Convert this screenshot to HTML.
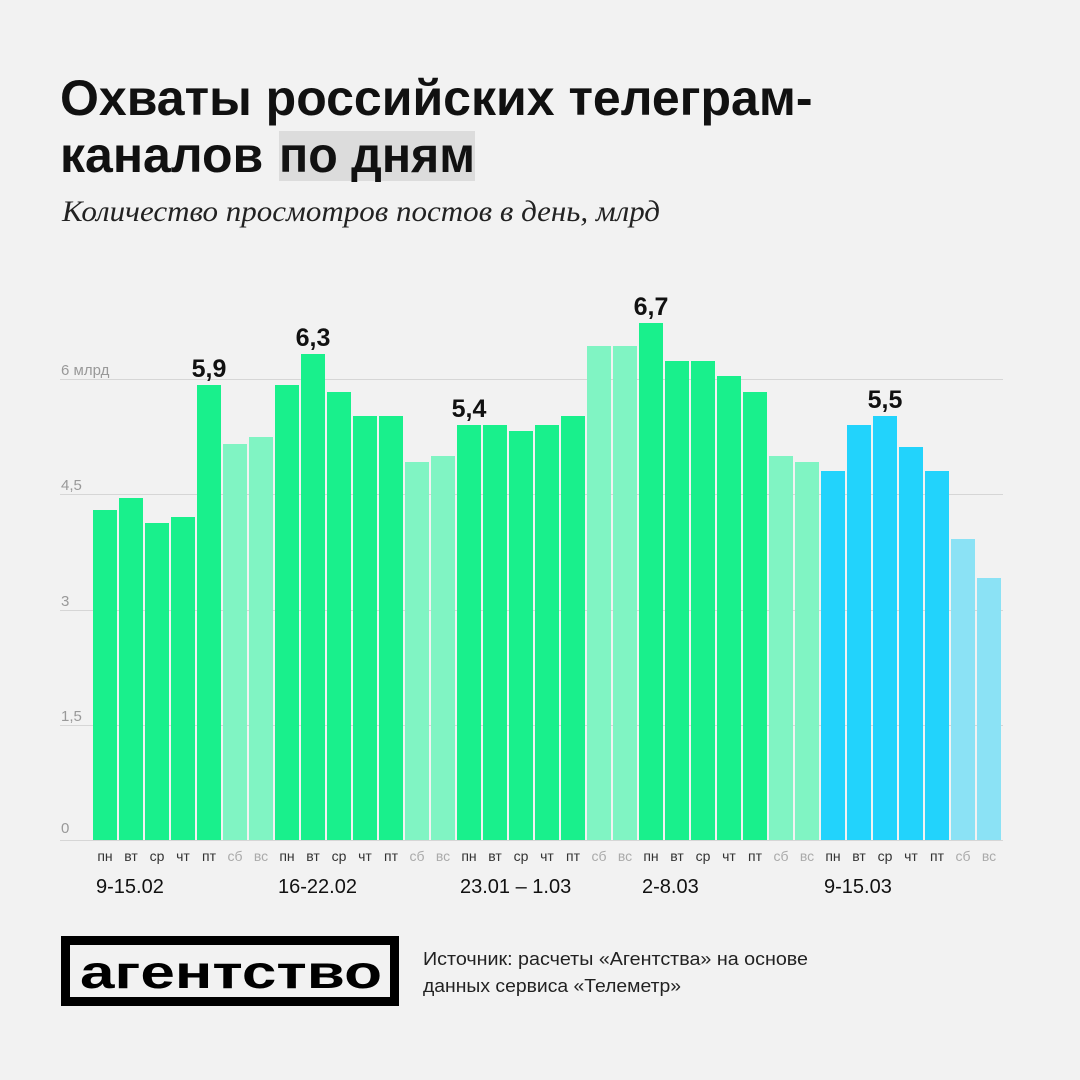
<!DOCTYPE html>
<html><head><meta charset="utf-8"><style>
html,body{margin:0;padding:0;background:#f2f2f2;}
body{width:1080px;height:1080px;position:relative;overflow:hidden;font-family:"Liberation Sans","DejaVu Sans",sans-serif;}
</style></head><body>
<svg width="1080" height="1080" xmlns="http://www.w3.org/2000/svg" style="position:absolute;left:0;top:0">
<rect x="279" y="131" width="196" height="50" fill="#dcdcdc"/>
<text x="60" y="115" font-size="50" font-weight="bold" fill="#111" font-family="Liberation Sans,sans-serif">Охваты российских телеграм-</text>
<text x="60" y="172" font-size="50" font-weight="bold" fill="#111" font-family="Liberation Sans,sans-serif">каналов </text>
<text x="279" y="172" font-size="50" font-weight="bold" fill="#111" font-family="Liberation Sans,sans-serif" textLength="196" lengthAdjust="spacingAndGlyphs">по дням</text>
<text x="62" y="221" font-size="30" font-style="italic" fill="#222" font-family="Liberation Serif,serif" textLength="598" lengthAdjust="spacingAndGlyphs">Количество просмотров постов в день, млрд</text>
<g stroke="#d6d6d6" stroke-width="1">
<line x1="60" x2="1003" y1="379.5" y2="379.5"/><line x1="60" x2="1003" y1="494.5" y2="494.5"/>
<line x1="60" x2="1003" y1="610.5" y2="610.5"/><line x1="60" x2="1003" y1="725.5" y2="725.5"/>
<line x1="60" x2="1003" y1="840.5" y2="840.5"/>
</g>
<g font-size="15" fill="#999">
<text x="61" y="375">6 млрд</text><text x="61" y="490">4,5</text><text x="61" y="606">3</text><text x="61" y="721">1,5</text><text x="61" y="833">0</text>
</g>
<g id="bars"></g>
<g font-size="25" font-weight="bold" fill="#111" text-anchor="middle">
<text x="209" y="377">5,9</text><text x="313" y="346">6,3</text><text x="469" y="417">5,4</text><text x="651" y="315">6,7</text><text x="885" y="408">5,5</text>
</g>
<g id="days" font-size="14" text-anchor="middle"></g>
<g font-size="20" fill="#111">
<text x="96" y="893">9-15.02</text><text x="278" y="893">16-22.02</text><text x="460" y="893">23.01 – 1.03</text><text x="642" y="893">2-8.03</text><text x="824" y="893">9-15.03</text>
</g>
<rect x="65.5" y="940.5" width="329" height="61" fill="none" stroke="#000" stroke-width="9"/>
<text x="80" y="988" font-size="46" font-weight="bold" fill="#000" textLength="302" lengthAdjust="spacingAndGlyphs">агентство</text>
<text x="423" y="965" font-size="18.5" fill="#222" textLength="385" lengthAdjust="spacingAndGlyphs">Источник: расчеты «Агентства» на основе</text>
<text x="423" y="992" font-size="18.5" fill="#222" textLength="258" lengthAdjust="spacingAndGlyphs">данных сервиса «Телеметр»</text>
</svg>
<script>
var tops=[510,498,523,517,385,444,437,385,354,392,416,416,462,456,425,425,431,425,416,346,346,323,361,361,376,392,456,462,471,425,416,447,471,539,578];
var d=["пн","вт","ср","чт","пт","сб","вс"];
var b="",t="";
for(var k=0;k<35;k++){var x=93+26*k,di=k%7,c;
 if(k<28){c=di<5?"#19f08c":"#80f4c3";}else{c=di<5?"#22d3fc":"#8be2f5";}
 b+='<rect x="'+x+'" y="'+tops[k]+'" width="24" height="'+(840-tops[k])+'" fill="'+c+'"/>';
 t+='<text x="'+(x+12)+'" y="861" fill="'+(di<5?"#333":"#aaa")+'">'+d[di]+'</text>';}
document.getElementById("bars").innerHTML=b;document.getElementById("days").innerHTML=t;
</script>
</body></html>
